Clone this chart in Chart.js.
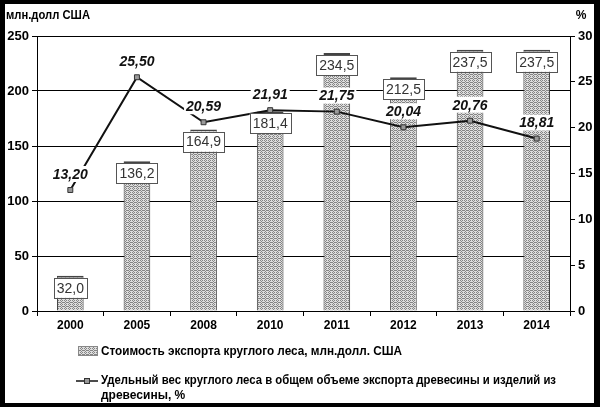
<!DOCTYPE html>
<html>
<head>
<meta charset="utf-8">
<script src="https://cdn.jsdelivr.net/npm/chart.js@4.4.1/dist/chart.umd.min.js"></script>
<style>
  html, body { margin: 0; padding: 0; background: #fff; }
  #wrap { width: 600px; height: 407px; }
</style>
</head>
<body>
<div id="wrap"><canvas id="chart" width="600" height="407"></canvas></div>
<script>
// data
const years = ['2000', '2005', '2008', '2010', '2011', '2012', '2013', '2014'];
const exportValue = [32.0, 136.2, 164.9, 181.4, 234.5, 212.5, 237.5, 237.5];
const exportShare = [13.20, 25.50, 20.59, 21.91, 21.75, 20.04, 20.76, 18.81];
const leftTicks = [0, 50, 100, 150, 200, 250];
const rightTicks = [0, 5, 10, 15, 20, 25, 30];

const barLabel = 'Стоимость экспорта круглого леса, млн.долл. США';
const lineLabel = ['Удельный вес круглого леса в общем объеме экспорта древесины и изделий из', 'древесины, %'];

const comma = (v, d) => v.toFixed(d).replace('.', ',');
const FONT = '"Liberation Sans", Arial, sans-serif';

// grey cross-hatch fill for the bars
function hatch() {
    const c = document.createElement('canvas');
    c.width = 4; c.height = 4;
    const g = c.getContext('2d');
    g.fillStyle = '#dedede';
    g.fillRect(0, 0, 4, 4);
    g.fillStyle = '#858585';
    g.fillRect(0, 0, 1, 1); g.fillRect(2, 0, 1, 1);
    g.fillRect(1, 1, 1, 1); g.fillRect(3, 2, 1, 1);
    g.fillRect(0, 2, 1, 1); g.fillRect(2, 2, 1, 1);
    g.fillRect(1, 3, 1, 1);
    return g.createPattern(c, 'repeat');
}

// squeeze text into a given width
function fitText(ctx, text, x, y, w) {
    const m = ctx.measureText(text).width;
    ctx.save();
    ctx.translate(x, y);
    ctx.scale(Math.min(1, w / m), 1);
    ctx.fillText(text, 0, 0);
    ctx.restore();
}

const decor = {
    id: 'decor',
    beforeDraw(chart) {
        const c = chart.ctx;
        c.save();
        c.fillStyle = '#fff';
        c.fillRect(0, 0, chart.width, chart.height);
        c.restore();
    },
    afterDatasetsDraw(chart) {
        const c = chart.ctx;
        c.save();
        // value boxes on bars
        const bars = chart.getDatasetMeta(0).data;
        c.font = '14px ' + FONT;
        c.textAlign = 'center';
        c.textBaseline = 'middle';
        bars.forEach((b, i) => {
            const t = comma(exportValue[i], 1);
            const w = c.measureText(t).width + 6;
            const h = 20;
            const top = b.y + 2;
            c.fillStyle = '#fff';
            c.fillRect(b.x - w / 2, top, w, h);
            c.strokeStyle = '#555';
            c.lineWidth = 1;
            c.strokeRect(Math.round(b.x - w / 2) + 0.5, Math.round(top) + 0.5, Math.round(w), h);
            c.fillStyle = '#333';
            c.fillText(t, b.x, top + h / 2 + 1);
        });
        // percent labels above points
        const pts = chart.getDatasetMeta(1).data;
        c.font = 'italic bold 14px ' + FONT;
        pts.forEach((p, i) => {
            const t = comma(exportShare[i], 2);
            const w = c.measureText(t).width + 4;
            const cy = p.y - 16;
            c.fillStyle = '#fff';
            c.fillRect(p.x - w / 2, cy - 8, w, 16);
            c.fillStyle = '#111';
            c.fillText(t, p.x, cy + 1);
        });
        c.restore();
    },
    afterDraw(chart) {
        const c = chart.ctx;
        c.save();
        c.fillStyle = '#000';
        c.textBaseline = 'middle';
        c.font = 'bold 12px ' + FONT;
        c.textAlign = 'left';
        fitText(c, 'млн.долл США', 6, 16, 84);
        c.textAlign = 'center';
        c.fillText('%', 581, 16);

        // legend
        c.textAlign = 'left';
        c.font = 'bold 12px ' + FONT;
        c.fillStyle = chart.data.datasets[0].backgroundColor;
        c.fillRect(78, 346, 20, 10);
        c.strokeStyle = '#888';
        c.strokeRect(78.5, 346.5, 19, 9);
        c.fillStyle = '#000';
        fitText(c, barLabel, 101, 352, 301);

        c.strokeStyle = '#111';
        c.lineWidth = 1.5;
        c.beginPath();
        c.moveTo(76, 381); c.lineTo(98, 381);
        c.stroke();
        c.fillStyle = '#999';
        c.fillRect(84, 378, 6, 6);
        c.strokeStyle = '#333';
        c.lineWidth = 1;
        c.strokeRect(84.5, 378.5, 5, 5);
        c.fillStyle = '#000';
        fitText(c, lineLabel[0], 101, 381, 455);
        fitText(c, lineLabel[1], 101, 396, 90);

        // black frame
        c.fillRect(0, 0, 600, 4);
        c.fillRect(0, 0, 5, 407);
        c.fillRect(594, 0, 6, 407);
        c.fillRect(0, 403, 600, 4);
        c.restore();
    }
};

const ctx = document.getElementById('chart').getContext('2d');
const chart = new Chart(ctx, {
    type: 'bar',
    data: {
        labels: years,
        datasets: [{
            type: 'bar',
            label: barLabel,
            data: exportValue,
            yAxisID: 'y',
            backgroundColor: hatch(),
            borderColor: '#444',
            borderWidth: { top: 2, left: 1, right: 1, bottom: 0 },
            borderSkipped: false,
            categoryPercentage: 1,
            barPercentage: 0.4,
            order: 2
        }, {
            type: 'line',
            label: lineLabel.join(' '),
            data: exportShare,
            yAxisID: 'y1',
            borderColor: '#111',
            borderWidth: 2,
            pointStyle: 'rect',
            pointRadius: 3.5,
            pointBackgroundColor: '#999',
            pointBorderColor: '#333',
            pointBorderWidth: 1,
            tension: 0,
            order: 1
        }]
    },
    options: {
        responsive: false,
        animation: false,
        layout: { padding: { top: 36, left: 0, right: 0, bottom: 70 } },
        plugins: {
            legend: { display: false },
            tooltip: { enabled: false }
        },
        scales: {
            x: {
                offset: true,
                grid: { offset: true, drawOnChartArea: false, color: '#000', tickLength: 5 },
                border: { color: '#000' },
                ticks: { color: '#000', font: { family: FONT, size: 12, weight: 'bold' }, padding: 2 },
                afterFit: s => { s.height = 26; }
            },
            y: {
                position: 'left',
                min: 0, max: 250,
                afterBuildTicks: s => { s.ticks = leftTicks.map(v => ({ value: v })); },
                grid: { color: '#000', lineWidth: 1, tickLength: 5 },
                border: { color: '#000' },
                ticks: { color: '#000', font: { family: FONT, size: 13, weight: 'bold' }, padding: 3 },
                afterFit: s => { s.width = 37; }
            },
            y1: {
                position: 'right',
                min: 0, max: 30,
                afterBuildTicks: s => { s.ticks = rightTicks.map(v => ({ value: v })); },
                grid: { drawOnChartArea: false, color: '#000', tickLength: 5 },
                border: { color: '#000' },
                ticks: { color: '#000', font: { family: FONT, size: 13, weight: 'bold' }, padding: 3 },
                afterFit: s => { s.width = 30; }
            }
        }
    },
    plugins: [decor]
});
</script>
</body>
</html>
